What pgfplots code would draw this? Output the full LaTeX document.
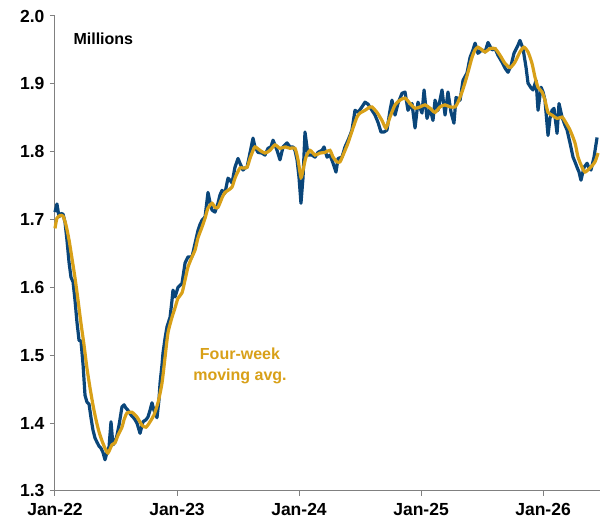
\documentclass[border=0pt]{standalone}
\usepackage{pgfplots}
\pgfplotsset{compat=1.18}
\usepackage{fontspec}
\setmainfont{Liberation Sans}
\definecolor{navy}{RGB}{10,70,122}
\definecolor{gold}{RGB}{216,160,24}
\begin{document}
\begin{tikzpicture}
\begin{axis}[
  name=ax,
  scale only axis, width=545pt, height=475pt,
  xmin=0, xmax=4.467, ymin=1.3, ymax=2.0,
  axis x line*=bottom, axis y line*=left,
  axis line style={draw=gray, line width=1pt, -},
  xtick={0,1,2,3,4},
  xticklabels={Jan-22,Jan-23,Jan-24,Jan-25,Jan-26},
  ytick={1.3,1.4,1.5,1.6,1.7,1.8,1.9,2.0},
  yticklabel style={xshift=-2pt, /pgf/number format/.cd, fixed, fixed zerofill, precision=1},
  /pgf/number format/assume math mode=true,
  tick style={draw=gray, line width=1pt},
  tick align=outside, major tick length=5pt,
  ticklabel style={font=\bfseries\fontsize{17.5}{17.5}\selectfont},
  xticklabel style={yshift=-4pt},
  clip=false,
]
\addplot[navy, line width=3.2pt, line join=round] coordinates {
(0.000,1.711)(0.016,1.723)(0.033,1.704)(0.049,1.709)(0.066,1.708)(0.082,1.696)
(0.098,1.670)(0.115,1.637)(0.131,1.615)(0.148,1.608)(0.164,1.581)(0.180,1.549)
(0.197,1.522)(0.213,1.521)(0.230,1.486)(0.246,1.441)(0.262,1.431)(0.279,1.428)
(0.295,1.408)(0.311,1.390)(0.328,1.378)(0.344,1.372)(0.361,1.366)(0.377,1.363)
(0.393,1.357)(0.410,1.346)(0.426,1.357)(0.443,1.365)(0.459,1.402)(0.475,1.368)
(0.492,1.372)(0.508,1.382)(0.525,1.397)(0.549,1.424)(0.566,1.427)(0.582,1.422)
(0.598,1.419)(0.623,1.412)(0.639,1.409)(0.656,1.405)(0.672,1.400)(0.697,1.385)
(0.721,1.402)(0.746,1.405)(0.762,1.409)(0.779,1.419)(0.795,1.430)(0.811,1.419)
(0.836,1.408)(0.852,1.434)(0.861,1.459)(0.877,1.486)(0.885,1.503)(0.902,1.525)
(0.918,1.542)(0.943,1.556)(0.959,1.581)(0.967,1.596)(0.984,1.586)(1.008,1.600)
(1.025,1.603)(1.041,1.606)(1.066,1.636)(1.090,1.645)(1.107,1.645)(1.123,1.645)
(1.148,1.665)(1.172,1.684)(1.189,1.693)(1.205,1.699)(1.230,1.704)(1.254,1.740)
(1.270,1.726)(1.287,1.714)(1.311,1.711)(1.336,1.724)(1.352,1.736)(1.369,1.743)
(1.393,1.739)(1.418,1.761)(1.434,1.758)(1.451,1.754)(1.475,1.777)(1.500,1.790)
(1.516,1.783)(1.541,1.773)(1.557,1.776)(1.574,1.777)(1.598,1.798)(1.623,1.820)
(1.639,1.807)(1.664,1.799)(1.697,1.798)(1.721,1.795)(1.746,1.805)(1.770,1.807)
(1.787,1.817)(1.803,1.810)(1.820,1.802)(1.844,1.788)(1.869,1.807)(1.902,1.813)
(1.926,1.807)(1.951,1.807)(1.967,1.802)(1.984,1.788)(2.000,1.762)(2.016,1.724)
(2.033,1.762)(2.049,1.829)(2.074,1.795)(2.107,1.795)(2.131,1.792)(2.156,1.799)
(2.189,1.802)(2.205,1.807)(2.230,1.792)(2.254,1.795)(2.279,1.783)(2.303,1.770)
(2.320,1.790)(2.352,1.792)(2.377,1.807)(2.402,1.817)(2.418,1.824)(2.434,1.832)
(2.459,1.861)(2.484,1.858)(2.516,1.866)(2.541,1.873)(2.566,1.870)(2.598,1.861)
(2.623,1.854)(2.648,1.843)(2.672,1.829)(2.697,1.829)(2.721,1.832)(2.746,1.861)
(2.762,1.876)(2.787,1.854)(2.811,1.871)(2.844,1.886)(2.869,1.888)(2.893,1.861)
(2.926,1.871)(2.951,1.835)(2.975,1.873)(3.008,1.857)(3.025,1.891)(3.049,1.849)
(3.074,1.864)(3.098,1.846)(3.115,1.876)(3.139,1.861)(3.172,1.891)(3.197,1.854)
(3.221,1.888)(3.246,1.858)(3.270,1.842)(3.287,1.880)(3.320,1.876)(3.344,1.905)
(3.377,1.916)(3.402,1.939)(3.426,1.950)(3.443,1.960)(3.467,1.945)(3.500,1.950)
(3.525,1.947)(3.549,1.961)(3.582,1.950)(3.607,1.952)(3.631,1.942)(3.664,1.932)
(3.689,1.923)(3.713,1.917)(3.738,1.927)(3.762,1.945)(3.795,1.957)(3.811,1.964)
(3.836,1.952)(3.861,1.924)(3.877,1.901)(3.902,1.894)(3.918,1.891)(3.943,1.905)
(3.959,1.861)(3.984,1.895)(4.000,1.888)(4.016,1.876)(4.041,1.824)(4.057,1.849)
(4.074,1.861)(4.090,1.864)(4.115,1.827)(4.131,1.871)(4.156,1.851)(4.180,1.839)
(4.197,1.832)(4.221,1.813)(4.246,1.792)(4.262,1.785)(4.279,1.777)(4.295,1.770)
(4.311,1.758)(4.336,1.777)(4.361,1.783)(4.377,1.776)(4.393,1.773)(4.418,1.792)
(4.443,1.821)
};
\addplot[gold, line width=3.2pt, smooth, tension=0.4] coordinates {
(0.000,1.687)(0.016,1.702)(0.041,1.706)(0.066,1.705)(0.090,1.692)(0.115,1.670)
(0.139,1.643)(0.164,1.614)(0.189,1.581)(0.213,1.547)(0.238,1.515)(0.262,1.481)
(0.287,1.452)(0.311,1.427)(0.336,1.405)(0.361,1.387)(0.385,1.374)(0.410,1.363)
(0.434,1.356)(0.467,1.368)(0.492,1.371)(0.516,1.382)(0.549,1.394)(0.566,1.405)
(0.590,1.415)(0.631,1.416)(0.672,1.409)(0.713,1.397)(0.746,1.394)(0.779,1.402)
(0.811,1.412)(0.844,1.430)(0.877,1.459)(0.902,1.497)(0.926,1.533)(0.959,1.556)
(0.984,1.570)(1.008,1.584)(1.041,1.592)(1.066,1.611)(1.090,1.630)(1.123,1.645)
(1.148,1.655)(1.172,1.673)(1.205,1.689)(1.230,1.702)(1.254,1.717)(1.287,1.724)
(1.311,1.718)(1.336,1.718)(1.369,1.732)(1.393,1.740)(1.418,1.743)(1.451,1.748)
(1.475,1.761)(1.492,1.768)(1.516,1.776)(1.541,1.776)(1.574,1.777)(1.598,1.790)
(1.615,1.798)(1.639,1.807)(1.680,1.802)(1.721,1.798)(1.762,1.802)(1.803,1.810)
(1.844,1.805)(1.885,1.807)(1.926,1.805)(1.967,1.805)(1.992,1.788)(2.016,1.762)
(2.033,1.773)(2.057,1.792)(2.090,1.802)(2.131,1.795)(2.172,1.798)(2.213,1.799)
(2.254,1.802)(2.279,1.792)(2.311,1.785)(2.336,1.785)(2.361,1.795)(2.402,1.813)
(2.443,1.835)(2.475,1.851)(2.500,1.857)(2.541,1.861)(2.582,1.866)(2.598,1.866)
(2.639,1.858)(2.680,1.846)(2.713,1.835)(2.746,1.851)(2.787,1.869)(2.828,1.876)
(2.869,1.879)(2.910,1.871)(2.951,1.864)(2.992,1.866)(3.033,1.869)(3.074,1.864)
(3.115,1.858)(3.156,1.866)(3.197,1.869)(3.238,1.866)(3.279,1.866)(3.303,1.873)
(3.336,1.888)(3.361,1.902)(3.385,1.917)(3.418,1.939)(3.443,1.950)(3.467,1.954)
(3.500,1.950)(3.525,1.947)(3.566,1.952)(3.607,1.952)(3.648,1.942)(3.689,1.930)
(3.730,1.924)(3.770,1.932)(3.811,1.947)(3.844,1.954)(3.877,1.947)(3.910,1.930)
(3.934,1.910)(3.959,1.895)(3.992,1.888)(4.016,1.876)(4.041,1.858)(4.074,1.854)
(4.115,1.849)(4.156,1.851)(4.180,1.845)(4.221,1.832)(4.262,1.813)(4.287,1.792)
(4.320,1.777)(4.344,1.770)(4.385,1.776)(4.426,1.785)(4.451,1.798)
};
\node[anchor=west, font=\bfseries\fontsize{16}{16}\selectfont] at (axis cs:0.123,1.967) {Millions};
\node[align=center, text=gold, font=\bfseries\fontsize{16}{21}\selectfont] at (axis cs:1.516,1.484) {Four-week\\moving avg.};
\end{axis}
\pgfresetboundingbox
\path[use as bounding box] ([shift={(-55pt,-31pt)}]ax.south west) rectangle ([shift={(4pt,16pt)}]ax.north east);
\end{tikzpicture}
\end{document}
